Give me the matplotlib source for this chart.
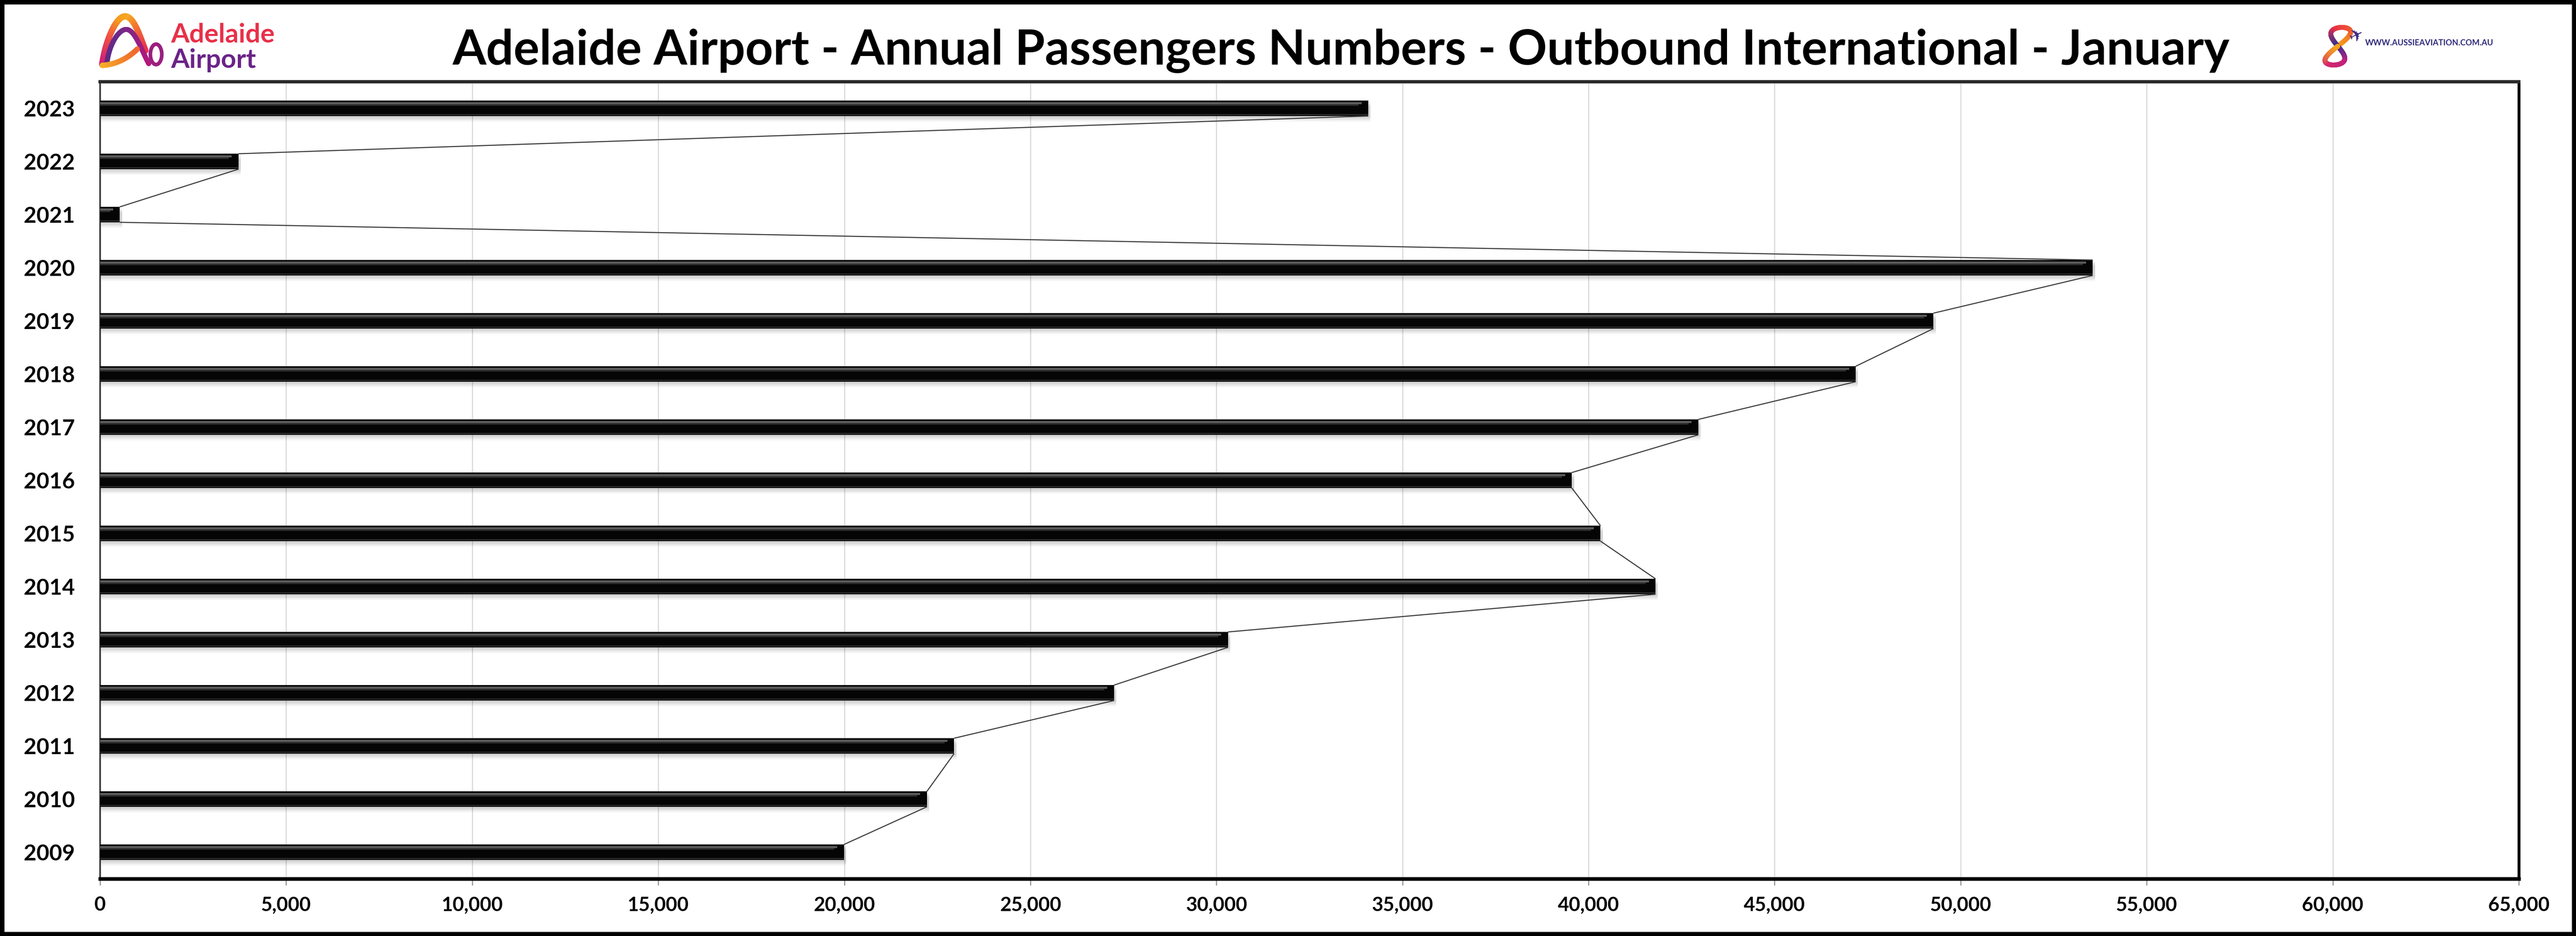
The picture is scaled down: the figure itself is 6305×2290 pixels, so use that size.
import numpy as np
import matplotlib
matplotlib.use('Agg')
import matplotlib.pyplot as plt
from matplotlib.collections import LineCollection
from matplotlib.colors import LinearSegmentedColormap
from matplotlib.patches import Rectangle, Ellipse

# ---------------- data ----------------
years = ['2009', '2010', '2011', '2012', '2013', '2014', '2015', '2016',
         '2017', '2018', '2019', '2020', '2021', '2022', '2023']
passengers = [19990, 22220, 22950, 27250, 30310, 41800, 40320, 39550,
              42950, 47180, 49270, 53550, 530, 3720, 34080]
x_ticks = [0, 5000, 10000, 15000, 20000, 25000, 30000, 35000, 40000,
           45000, 50000, 55000, 60000, 65000]
x_tick_labels = ['0', '5,000', '10,000', '15,000', '20,000', '25,000', '30,000',
                 '35,000', '40,000', '45,000', '50,000', '55,000', '60,000', '65,000']
title = "Adelaide Airport - Annual Passengers Numbers - Outbound International - January"
logo_top = "Adelaide"
logo_bottom = "Airport"
website = "WWW.AUSSIEAVIATION.COM.AU"

# ---------------- figure ----------------
W, H = 6305, 2290
DPI = 100
FONT = ['Lato', 'DejaVu Sans']


def pt(pixels):
    return pixels * 72.0 / DPI


fig = plt.figure(figsize=(W / DPI, H / DPI), dpi=DPI)
fig.patch.set_facecolor('white')
renderer = fig.canvas.get_renderer()


def size_for(text, target_w, weight='bold', family=FONT):
    t = fig.text(0, 0, text, fontsize=40, fontweight=weight, family=family)
    w = t.get_window_extent(renderer).width
    t.remove()
    return 40 * target_w / w


def fit(t, target_w, max_size=None):
    w = t.get_window_extent(renderer).width
    s = t.get_fontsize() * target_w / w
    if max_size is not None:
        s = min(s, max_size)
    t.set_fontsize(s)


L, R, T, B = 245, 6165, 200, 2150
ax = fig.add_axes([L / W, 1 - B / H, (R - L) / W, (B - T) / H])

y = np.arange(len(years))
vals = np.array(passengers, dtype=float)
h = 0.29

# soft shadow below the bars
for off, a in [(0.11, 0.03), (0.085, 0.04), (0.06, 0.05), (0.035, 0.06)]:
    ax.barh(y - off, vals + 60, height=h, left=0, color='black',
            alpha=a, linewidth=0, zorder=2)
# main bars
ax.barh(y, vals, height=h, left=0, color='#050505', linewidth=0, zorder=3)
# sheen / bevel
ax.barh(y + h * 0.33, np.maximum(vals - 180, 0), height=h * 0.14, left=0,
        color='#5c5c5c', linewidth=0, zorder=4)
ax.barh(y + h * 0.22, np.maximum(vals - 260, 0), height=h * 0.10, left=0,
        color='#2c2c2c', linewidth=0, zorder=4)
ax.barh(y - h * 0.42, vals, height=h * 0.08, left=0,
        color='#2a2a2a', linewidth=0, zorder=4)

# series lines connecting the bar ends
for i in range(len(vals) - 1):
    ax.plot([vals[i + 1], vals[i]], [y[i + 1] - h / 2, y[i] + h / 2],
            color='#3c3c3c', lw=pt(2.6), zorder=5, solid_capstyle='butt')

ax.set_xlim(0, 65000)
ax.set_ylim(-0.5, len(years) - 0.5)

xsize = size_for('65,000', 150)
ysize = size_for('2023', 125)
ax.set_xticks(x_ticks)
ax.set_xticklabels(x_tick_labels, fontsize=xsize, fontweight='bold', family=FONT)
ax.set_yticks(y)
ax.set_yticklabels(years, fontsize=ysize, fontweight='bold', family=FONT)
ax.tick_params(axis='y', length=0, pad=pt(62))
ax.tick_params(axis='x', length=pt(16), width=pt(2.5), color='#8c8c8c',
               direction='out', pad=pt(26))
ax.grid(axis='x', color='#d6d6d6', lw=pt(2.5), zorder=0)
ax.set_axisbelow(True)

ax.spines['top'].set_color('#2a2a2a')
ax.spines['top'].set_linewidth(pt(8))
ax.spines['right'].set_color('black')
ax.spines['right'].set_linewidth(pt(7))
ax.spines['bottom'].set_color('black')
ax.spines['bottom'].set_linewidth(pt(9))
ax.spines['left'].set_color('#3a3a3a')
ax.spines['left'].set_linewidth(pt(4))

# ---------------- overlay: frame, title, logos ----------------
ov = fig.add_axes([0, 0, 1, 1], zorder=20)
ov.set_xlim(0, W)
ov.set_ylim(H, 0)
ov.axis('off')
ov.patch.set_alpha(0)

ov.add_patch(Rectangle((5, 5), W - 10, H - 10, fill=False, ec='black',
                       lw=pt(11), joinstyle='miter'))

tt = ov.text(3283, 158, title, ha='center', va='baseline', fontweight='bold',
             family=FONT, fontsize=90, color='black')
fit(tt, 4354)


def bez(p0, p1, p2, p3, n=80):
    t = np.linspace(0, 1, n)[:, None]
    p0, p1, p2, p3 = map(np.array, (p0, p1, p2, p3))
    return (1 - t) ** 3 * p0 + 3 * (1 - t) ** 2 * t * p1 + 3 * (1 - t) * t ** 2 * p2 + t ** 3 * p3


def grad_line(pts, colors, lw, z=21):
    segs = np.stack([pts[:-1], pts[1:]], axis=1)
    cmap = LinearSegmentedColormap.from_list('g', colors)
    lc = LineCollection(segs, colors=cmap(np.linspace(0, 1, len(segs))),
                        linewidths=lw, capstyle='round', zorder=z)
    ov.add_collection(lc)


# Adelaide Airport "A" ribbon
outer = np.vstack([bez((250, 158), (258, 100), (284, 40), (306, 40)),
                   bez((306, 40), (328, 40), (342, 88), (356, 124))])
grad_line(outer, ['#c8177a', '#ef4a4a', '#f59a1d', '#f7a823', '#f06a35', '#e8334d'], pt(15))
inner = np.vstack([bez((262, 152), (268, 108), (290, 72), (309, 72)),
                   bez((309, 72), (330, 72), (346, 122), (364, 156))])
grad_line(inner, ['#5a2a86', '#6c2a8a', '#8a2286', '#b3177d'], pt(12), z=22)
ov.add_patch(Ellipse((382, 133), 28, 50, fill=False, ec='#9b1f7f', lw=pt(9), zorder=22))
band = bez((250, 160), (282, 158), (312, 144), (336, 120))
grad_line(band, ['#f5b12a', '#f38a2a', '#ef6a30'], pt(13), z=23)

t1 = ov.text(418, 104, logo_top, ha='left', va='baseline', fontweight='bold',
             family=FONT, fontsize=40, color='#e83049', zorder=24)
fit(t1, 363, max_size=pt(65))
t2 = ov.text(418, 166, logo_bottom, ha='left', va='baseline', fontweight='bold',
             family=FONT, fontsize=40, color='#6b2388', zorder=24)
fit(t2, 284, max_size=pt(65))

# Aussie aviation "8" logo
tt8 = np.linspace(0, 2 * np.pi, 300)
cx, cy, ww, hh = 5722, 113, 24, 46
ex = cx + ww * np.sin(2 * tt8)
ey = cy - hh * np.sin(tt8)
ex = ex - 0.22 * (ey - cy)
grad_line(np.column_stack([ex, ey]),
          ['#f7a21b', '#f0602d', '#e8304a', '#3b2f8f', '#c2207e', '#d42a6a', '#f7a21b'], pt(12))
ov.text(5768, 88, '\u2708', fontsize=pt(42), color='#3d2a86', rotation=25,
        ha='center', va='center', family=['DejaVu Sans'], zorder=24)
tw = ov.text(5789, 105, website, ha='left', va='center', fontweight='bold',
             family=FONT, fontsize=10, color='#2e2b7a', zorder=24)
fit(tw, 314)

fig.savefig('out.png', dpi=DPI, facecolor='white')
